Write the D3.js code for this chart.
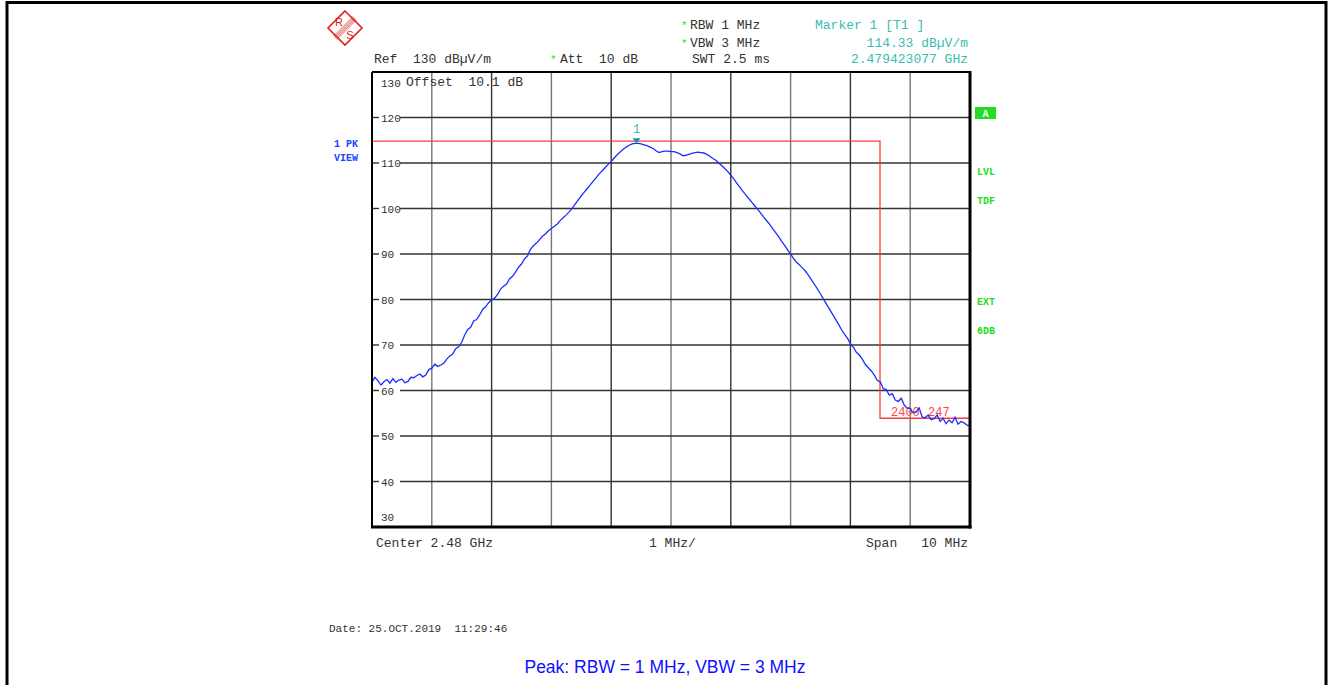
<!DOCTYPE html>
<html><head><meta charset="utf-8">
<script src="https://cdn.jsdelivr.net/npm/d3@7"></script>
<style>body{margin:0;background:#fff}svg{display:block}</style>
</head><body>
<svg id="c" width="1328" height="685"></svg>
<script>
// ---- data ----
const startGHz = 2.475, stopGHz = 2.485;
const stepMHz = 0.05;
const traceDb = [
 61.9,62.9,62.1,61.2,61.9,62.4,61.6,62.6,61.8,62.3,62.5,61.7,62.0,62.9,62.8,63.3,63.6,63.0,63.4,64.6,
 64.9,65.8,65.3,65.6,66.0,66.9,67.6,68.0,69.2,69.6,70.6,72.2,73.4,73.9,75.3,75.6,76.6,77.8,78.4,79.3,
 79.9,80.3,81.1,82.3,82.9,83.4,84.5,85.1,86.0,87.1,87.8,88.9,89.6,91.0,91.8,92.4,93.1,93.9,94.4,95.1,
 95.6,96.1,96.6,97.4,98.0,98.6,99.3,100.1,101.0,101.9,102.8,103.6,104.4,105.2,106.0,106.8,107.6,108.3,109.0,109.7,
 110.3,111.1,111.8,112.4,113.0,113.5,113.9,114.2,114.33,114.3,114.2,114.0,113.8,113.5,113.2,112.7,112.3,112.5,112.6,112.6,
 112.5,112.5,112.3,112.0,111.6,111.7,111.9,112.1,112.3,112.4,112.3,112.2,111.9,111.5,111.0,110.6,110.0,109.4,108.8,108.1,
 107.3,106.5,105.6,104.7,103.8,103.0,102.2,101.4,100.6,99.8,99.0,98.1,97.3,96.5,95.6,94.7,93.8,92.8,91.9,90.9,
 90.0,89.0,88.2,87.6,86.9,86.2,85.3,84.3,83.3,82.3,81.2,80.1,79.0,77.9,76.8,75.7,74.6,73.4,72.4,71.5,
 70.3,69.5,68.4,67.8,66.9,65.7,65.0,64.3,63.4,62.2,61.9,60.4,60.2,59.0,59.3,57.9,57.6,58.3,56.8,56.1,
 56.0,55.1,55.3,56.2,54.2,54.0,54.6,53.6,53.8,54.6,53.2,53.9,52.7,53.5,52.9,54.1,52.6,53.2,52.9,52.4,
 52.2];
const yTicks = [30,40,50,60,70,80,90,100,110,120,130];
const xGridGHz = [2.476,2.477,2.478,2.479,2.480,2.481,2.482,2.483,2.484];
const limitUpperDb = 114.8, limitLowerDb = 53.9, limitEdgeGHz = 2.483495;
const markerGHz = 2.479423077, markerDb = 114.33;
const rightLabels = ["LVL","TDF","EXT","6DB"];
const rightLabelDb = [108.2, 101.8, 79.7, 73.3];

// ---- drawing ----
const svg = d3.select("#c");
const L=372,R=970,T=72,B=527;
const x = d3.scaleLinear().domain([startGHz, stopGHz]).range([L,R]);
const y = d3.scaleLinear().domain([30,130]).range([B,T]);
const mono = "'Courier New','Liberation Mono',monospace";

// outer frame
svg.append("rect").attr("x",7).attr("y",2.5).attr("width",1319).attr("height",700)
  .attr("fill","none").attr("stroke","#000").attr("stroke-width",3);

// grid verticals
svg.append("g").selectAll("line").data(xGridGHz).join("line")
  .attr("x1",d=>x(d)).attr("x2",d=>x(d)).attr("y1",T).attr("y2",B)
  .attr("stroke",(d,i)=> i%2===0 ? "#777":"#333").attr("stroke-width",1.4);

// grid horizontals (broken for labels)
const hg = svg.append("g");
yTicks.filter(v=>v>30 && v<130).forEach(v=>{
  hg.append("line").attr("x1",L).attr("x2",L+7).attr("y1",y(v)).attr("y2",y(v)).attr("stroke","#333").attr("stroke-width",1.4);
  hg.append("line").attr("x1",L+28).attr("x2",R).attr("y1",y(v)).attr("y2",y(v)).attr("stroke","#333").attr("stroke-width",1.4);
});
svg.append("g").selectAll("text").data(yTicks).join("text")
  .attr("x",L+9).attr("y",d=> d===130 ? y(d)+15 : d===30 ? y(d)-6 : y(d)+4)
  .attr("font-family",mono).attr("font-size",11).attr("fill","#333")
  .text(d=>d);

// limit line
const lim = [[startGHz,limitUpperDb],[limitEdgeGHz,limitUpperDb],[limitEdgeGHz,limitLowerDb],[stopGHz,limitLowerDb]];
svg.append("path").attr("d",d3.line().x(d=>x(d[0])).y(d=>y(d[1]))(lim))
  .attr("fill","none").attr("stroke","#ff3a3a").attr("stroke-width",1.3);
svg.append("text").attr("x",x(limitEdgeGHz)+11).attr("y",y(limitLowerDb)-2)
  .attr("font-family",mono).attr("font-size",12).attr("fill","#ff4444").text("2400");
svg.append("text").attr("x",x(limitEdgeGHz)+48).attr("y",y(limitLowerDb)-2)
  .attr("font-family",mono).attr("font-size",12).attr("fill","#ff4444").text("247");

// trace
const tr = traceDb.map((v,i)=>[startGHz + i*stepMHz/1000, v]);
svg.append("path").attr("d",d3.line().x(d=>x(d[0])).y(d=>y(d[1]))(tr))
  .attr("fill","none").attr("stroke","#1a2fff").attr("stroke-width",1.3);

// marker
const mx = x(markerGHz), my = y(markerDb);
svg.append("path").attr("d",`M${mx-4},${my-5}L${mx+4},${my-5}L${mx},${my}Z`).attr("fill","#1a9a90");
svg.append("text").attr("x",mx).attr("y",my-10).attr("text-anchor","middle")
  .attr("font-family",mono).attr("font-size",12).attr("fill","#3cbcb0").text("1");

// plot frame
svg.append("line").attr("x1",L).attr("x2",R).attr("y1",T).attr("y2",T).attr("stroke","#000").attr("stroke-width",2);
svg.append("line").attr("x1",L).attr("x2",L).attr("y1",T).attr("y2",B).attr("stroke","#000").attr("stroke-width",2);
svg.append("line").attr("x1",R).attr("x2",R).attr("y1",T-1).attr("y2",B+1.5).attr("stroke","#000").attr("stroke-width",3);
svg.append("line").attr("x1",L-1).attr("x2",R+1.5).attr("y1",B).attr("y2",B).attr("stroke","#000").attr("stroke-width",3);

function txt(xx,yy,s,opt={}){
  return svg.append("text").attr("x",xx).attr("y",yy).attr("font-family",mono)
   .attr("font-size",opt.size||13).attr("fill",opt.fill||"#333")
   .attr("text-anchor",opt.anchor||"start").attr("font-weight",opt.weight||"normal")
   .style("white-space","pre").text(s);
}
// "Offset" text
txt(406,86,"Offset  10.1 dB");

// header texts
txt(374,63,"Ref  130 dBµV/m");
txt(550,63,"*",{fill:"#22dd22",size:11});
txt(560,63,"Att  10 dB");
txt(681,29,"*",{fill:"#22dd22",size:11});
txt(690,29,"RBW 1 MHz");
txt(681,47,"*",{fill:"#22dd22",size:11});
txt(690,47,"VBW 3 MHz");
txt(692,63,"SWT 2.5 ms");
txt(815,29,"Marker 1 [T1 ]",{fill:"#3cbcb0"});
txt(968,47,"114.33 dBµV/m",{fill:"#3cbcb0",anchor:"end"});
txt(968,63,"2.479423077 GHz",{fill:"#3cbcb0",anchor:"end"});

// bottom texts
txt(376,547,"Center 2.48 GHz");
txt(649,547,"1 MHz/");
txt(866,547,"Span");
txt(968,547,"10 MHz",{anchor:"end"});
txt(329,632,"Date: 25.OCT.2019  11:29:46",{size:11});
svg.append("text").attr("x",665).attr("y",673).attr("text-anchor","middle")
  .attr("font-family","Arial,'Liberation Sans',sans-serif").attr("font-size",17.5).attr("fill","#1010ff")
  .text("Peak: RBW = 1 MHz, VBW = 3 MHz");

// left labels
txt(346,147,"1 PK",{fill:"#2244ff",size:10,weight:"bold",anchor:"middle"});
txt(346,161,"VIEW",{fill:"#2244ff",size:10,weight:"bold",anchor:"middle"});

// right labels
svg.append("rect").attr("x",975).attr("y",107).attr("width",21).attr("height",12).attr("fill","#22dd22");
txt(985.5,117,"A",{fill:"#fff",size:10,weight:"bold",anchor:"middle"});
svg.append("g").selectAll("text").data(rightLabels).join("text")
  .attr("x",977).attr("y",(d,i)=>y(rightLabelDb[i])+4)
  .attr("font-family",mono).attr("font-size",10).attr("font-weight","bold").attr("fill","#22dd22")
  .text(d=>d);

// R&S logo
const lg = svg.append("g").attr("transform","translate(345,28)");
lg.append("path").attr("d","M0,-17L17,0L0,17L-17,0Z").attr("fill","none").attr("stroke","#e02020").attr("stroke-width",1.6);
const band = lg.append("g").attr("transform","rotate(-45)");
[-2.4,-1.2,0,1.2,2.4].forEach(o=>{
  band.append("line").attr("x1",-14).attr("x2",14).attr("y1",o).attr("y2",o).attr("stroke","#e02020").attr("stroke-width",0.6);
});
lg.append("text").attr("x",-6).attr("y",-2).attr("text-anchor","middle").attr("font-family","Arial,sans-serif")
  .attr("font-size",11).attr("fill","#e02020").text("R");
lg.append("text").attr("x",5).attr("y",11).attr("text-anchor","middle").attr("font-family","Arial,sans-serif")
  .attr("font-size",11).attr("fill","#e02020").text("S");
</script>
</body></html>
